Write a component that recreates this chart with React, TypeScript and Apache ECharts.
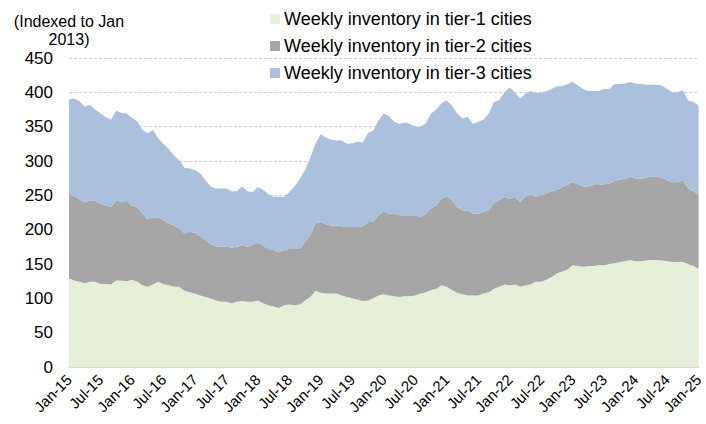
import React, { useEffect, useRef } from "react";
import * as echarts from "echarts";

const monthNames = ["Jan", "Feb", "Mar", "Apr", "May", "Jun", "Jul", "Aug", "Sep", "Oct", "Nov", "Dec"];
const years = [15, 16, 17, 18, 19, 20, 21, 22, 23, 24, 25];
const categories: string[] = [];
years.forEach((y) => monthNames.forEach((m) => categories.push(`${m}-${y}`)));
categories.splice(121);

const seriesNames = [
  "Weekly inventory in tier-1 cities",
  "Weekly inventory in tier-2 cities",
  "Weekly inventory in tier-3 cities",
];

const tier1 = [
  129, 126, 124, 122, 124, 124, 121, 121, 120, 126, 126, 125,
  127, 124, 119, 117, 120, 124, 121, 119, 117, 117, 111, 109,
  107, 104, 102, 100, 97, 95, 95, 93, 95, 96, 95, 95,
  97, 93, 90, 88, 86, 90, 91, 90, 91, 97, 102, 111,
  108, 107, 107, 107, 104, 102, 100, 98, 96, 97, 100, 104,
  106, 104, 103, 102, 103, 103, 104, 107, 109, 112, 114, 119,
  117, 112, 108, 106, 104, 104, 104, 107, 109, 114, 117, 120,
  119, 120, 117, 119, 120, 124, 124, 127, 131, 136, 139, 142,
  148, 147, 146, 147, 147, 148, 148, 150, 151, 153, 154, 156,
  154, 154, 155, 156, 156, 155, 154, 153, 153, 153, 150, 147,
  143,
];

const tier2 = [
  122, 123, 120, 118, 119, 118, 117, 114, 113, 117, 114, 117,
  108, 109, 104, 99, 98, 94, 93, 90, 89, 85, 83, 88,
  88, 86, 83, 79, 79, 80, 80, 81, 80, 81, 80, 83,
  84, 84, 82, 82, 81, 80, 81, 82, 81, 85, 90, 98,
  103, 101, 99, 99, 101, 102, 104, 106, 109, 114, 111, 117,
  121, 119, 120, 119, 118, 118, 117, 111, 114, 119, 121, 126,
  131, 131, 125, 122, 124, 119, 119, 119, 119, 125, 126, 128,
  126, 128, 123, 129, 131, 124, 126, 126, 125, 122, 123, 123,
  121, 119, 117, 116, 118, 117, 118, 117, 120, 120, 120, 121,
  120, 120, 121, 121, 121, 121, 118, 116, 116, 119, 110, 109,
  108,
];

const tier3 = [
  139, 142, 143, 139, 139, 133, 131, 129, 127, 130, 130, 127,
  128, 125, 122, 124, 127, 115, 111, 109, 102, 99, 96, 92,
  92, 92, 87, 84, 84, 85, 85, 82, 81, 86, 81, 77,
  81, 81, 80, 78, 81, 78, 83, 91, 102, 105, 113, 117,
  128, 126, 125, 124, 125, 121, 122, 124, 122, 130, 133, 138,
  142, 142, 134, 133, 135, 133, 129, 132, 132, 138, 140, 139,
  140, 138, 136, 134, 136, 131, 134, 134, 141, 147, 146, 152,
  162, 152, 151, 150, 151, 151, 149, 149, 149, 151, 147, 147,
  146, 144, 142, 139, 137, 137, 139, 138, 141, 139, 139, 138,
  139, 138, 135, 134, 134, 134, 133, 131, 131, 131, 128, 130,
  130,
];

const yTicks = { min: 0, max: 450, interval: 50 };
const colors = ["#e6f0d9", "#a6a6a6", "#aac0dc"];
const FONT = "'Liberation Sans', Arial, sans-serif";

export default function App() {
  const ref = useRef<HTMLDivElement>(null);
  useEffect(() => {
    if (!ref.current) return;
    const chart = echarts.init(ref.current, null, { renderer: "svg" });
    const data = [tier1, tier2, tier3];
    chart.setOption({
      animation: false,
      textStyle: { fontFamily: FONT },
      color: colors,
      grid: { left: 69, right: 3, top: 58, bottom: 57, containLabel: false },
      legend: {
        orient: "vertical",
        left: 270,
        top: 9,
        padding: 0,
        itemWidth: 10,
        itemHeight: 10,
        itemGap: 7,
        icon: "rect",
        textStyle: { fontSize: 18, color: "#000", fontFamily: FONT, lineHeight: 20, padding: [0, 0, 0, -1] },
        data: seriesNames,
      },
      graphic: [
        {
          type: "text",
          x: 69,
          y: 12,
          style: {
            text: "(Indexed to Jan\n2013)",
            fontSize: 16,
            fontFamily: FONT,
            fill: "#000",
            lineHeight: 18,
            align: "center",
            verticalAlign: "top",
          },
        },
      ],
      xAxis: {
        type: "category",
        data: categories,
        boundaryGap: false,
        axisLine: { show: true, lineStyle: { color: "#d9d9d9", width: 2 } },
        axisTick: { show: false },
        axisLabel: {
          interval: 5,
          rotate: 45,
          fontSize: 15,
          color: "#000",
          fontFamily: FONT,
          margin: 10,
        },
      },
      yAxis: {
        type: "value",
        min: yTicks.min,
        max: yTicks.max,
        interval: yTicks.interval,
        axisLine: { show: false },
        axisTick: { show: false },
        axisLabel: { fontSize: 17, color: "#000", fontFamily: FONT, margin: 16 },
        splitLine: { show: true, lineStyle: { color: "#d0d0d0", type: [3, 2], width: 1 } },
      },
      series: data.map((d, i) => ({
        name: seriesNames[i],
        type: "line",
        stack: "total",
        data: d,
        symbol: "none",
        lineStyle: { width: 0 },
        areaStyle: { color: colors[i], opacity: 1 },
        itemStyle: { color: colors[i] },
        z: 2,
      })),
    });
    return () => chart.dispose();
  }, []);
  return (
    <div
      ref={ref}
      style={{ position: "absolute", left: 0, top: 0, width: 706, height: 424 }}
    />
  );
}
